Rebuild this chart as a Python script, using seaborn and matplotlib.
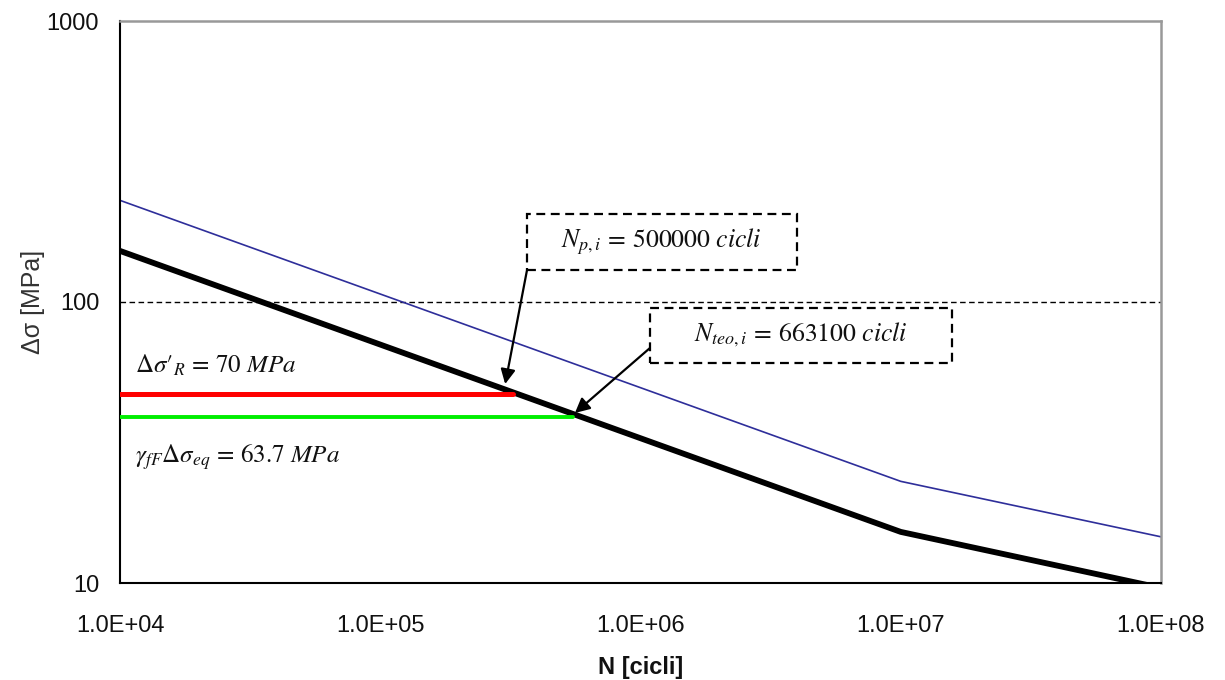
import matplotlib
matplotlib.use("Agg")
import matplotlib.pyplot as plt
import seaborn as sns
import pandas as pd
from matplotlib.patches import Rectangle
from matplotlib.ticker import FixedLocator, NullLocator

# ---- data ----
n_blue = [1e4, 1e7, 1e8]
s_blue = [230, 23.0, 14.6]
n_black = [1e4, 1e7, 1e8]
s_black = [152, 15.2, 9.6]
n_red = [1e4, 3.24e5]
s_red = [47.1, 47.1]
n_green = [1e4, 5.5e5]
s_green = [39.1, 39.1]
x_ticks = [1e4, 1e5, 1e6, 1e7, 1e8]
x_tick_labels = ["1.0E+04", "1.0E+05", "1.0E+06", "1.0E+07", "1.0E+08"]
y_ticks = [10, 100, 1000]
y_tick_labels = ["10", "100", "1000"]
label_np = r"$N_{p,i}\,=\,500000\ cicli$"
label_nteo = r"$N_{teo,i}\,=\,663100\ cicli$"
label_sr = "$\\Delta\\sigma\u2032_{R}\\,=\\,70\\ MPa$"
label_seq = r"$\gamma_{fF}\Delta\sigma_{eq}\,=\,63.7\ MPa$"

sns.set_theme(style="white")
plt.rcParams['font.family'] = ['Liberation Sans', 'DejaVu Sans']
plt.rcParams['mathtext.fontset'] = 'stix'

fig = plt.figure(figsize=(12.25, 6.8), dpi=100)
ax = fig.add_axes([120/1225, 1-583/680, 1041/1225, 562/680])

df_blue = pd.DataFrame({"N": n_blue, "S": s_blue})
df_black = pd.DataFrame({"N": n_black, "S": s_black})
df_red = pd.DataFrame({"N": n_red, "S": s_red})
df_green = pd.DataFrame({"N": n_green, "S": s_green})

ax.axhline(100, color="black", lw=1.0, ls=(0, (4, 2.5)), zorder=1)
sns.lineplot(data=df_blue, x="N", y="S", ax=ax, color="#2e2e9a", lw=1.2,
             estimator=None, sort=False, zorder=2)
sns.lineplot(data=df_black, x="N", y="S", ax=ax, color="black", lw=4.2,
             estimator=None, sort=False, zorder=3)
sns.lineplot(data=df_red, x="N", y="S", ax=ax, color="#ff0000", lw=3.6,
             estimator=None, sort=False, zorder=4)
sns.lineplot(data=df_green, x="N", y="S", ax=ax, color="#00ee00", lw=2.8,
             estimator=None, sort=False, zorder=4)

ax.set_xscale("log")
ax.set_yscale("log")
ax.set_xlim(1e4, 1e8)
ax.set_ylim(10, 1000)
ax.xaxis.set_major_locator(FixedLocator(x_ticks))
ax.xaxis.set_minor_locator(NullLocator())
ax.yaxis.set_major_locator(FixedLocator(y_ticks))
ax.yaxis.set_minor_locator(NullLocator())
ax.set_xticklabels(x_tick_labels)
ax.set_yticklabels(y_tick_labels)
ax.tick_params(axis="both", which="major", direction="out", length=6,
               width=1.3, color="black", labelsize=17, labelcolor="#111111")
ax.tick_params(axis="x", pad=17)
ax.tick_params(axis="y", pad=9)

for side in ["left", "bottom"]:
    ax.spines[side].set_color("black")
    ax.spines[side].set_linewidth(1.5)
for side in ["top", "right"]:
    ax.spines[side].set_color("#999999")
    ax.spines[side].set_linewidth(1.8)

ax.set_xlabel("N [cicli]", fontsize=17, fontweight="bold", color="#111111", labelpad=14)
ax.set_ylabel("Δσ [MPa]", fontsize=18, color="#333333", labelpad=1)
ax.grid(False)

# dashed text boxes
ax.add_patch(Rectangle((0.391, 0.557), 0.259, 0.0996, transform=ax.transAxes,
                       fill=True, facecolor="white", edgecolor="black",
                       lw=1.6, ls=(0, (4, 2.5)), zorder=6))
ax.add_patch(Rectangle((0.509, 0.3915), 0.290, 0.0975, transform=ax.transAxes,
                       fill=True, facecolor="white", edgecolor="black",
                       lw=1.6, ls=(0, (4, 2.5)), zorder=6))
ax.text(0.5205, 0.607, label_np, transform=ax.transAxes, ha="center",
        va="center", fontsize=18.5, color="#111111", zorder=7)
ax.text(0.654, 0.441, label_nteo, transform=ax.transAxes, ha="center",
        va="center", fontsize=18.5, color="#111111", zorder=7)

# arrows
arrow = dict(arrowstyle="-|>", color="black", lw=1.6, mutation_scale=22,
             shrinkA=0, shrinkB=0)
ax.annotate("", xy=(0.370, 0.354), xytext=(0.391, 0.557),
            xycoords="axes fraction", textcoords="axes fraction",
            arrowprops=arrow, zorder=8)
ax.annotate("", xy=(0.437, 0.3025), xytext=(0.509, 0.418),
            xycoords="axes fraction", textcoords="axes fraction",
            arrowprops=arrow, zorder=8)

# left labels
ax.text(0.0144, 0.388, label_sr, transform=ax.transAxes, ha="left",
        va="center", fontsize=18, color="#111111", zorder=7)
ax.text(0.0144, 0.224, label_seq, transform=ax.transAxes, ha="left",
        va="center", fontsize=18, color="#111111", zorder=7)

fig.savefig("out.png", dpi=100)
